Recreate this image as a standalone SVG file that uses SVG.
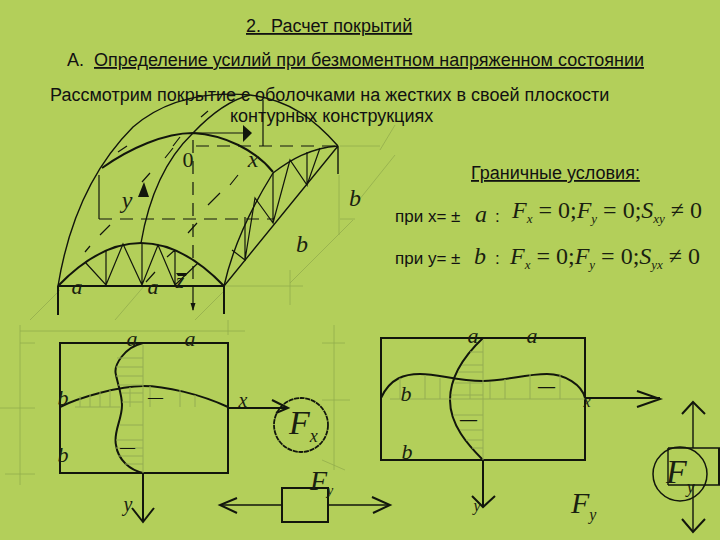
<svg xmlns="http://www.w3.org/2000/svg" width="720" height="540" viewBox="0 0 720 540">
<style>
.t{font-family:"Liberation Sans",Arial,sans-serif;font-size:18px;fill:#111;white-space:pre}
.p{font-family:"Liberation Sans",Arial,sans-serif;font-size:17px;fill:#111}
.u{text-decoration:underline}
.m{font-family:"Liberation Serif","Times New Roman",serif;font-style:italic;fill:#1a1f10;text-anchor:middle}
.e{font-family:"Liberation Serif","Times New Roman",serif;font-style:italic;fill:#1a1f10}
.n{font-style:normal}
.o{font-family:"Liberation Serif","Times New Roman",serif;font-weight:bold;fill:#12160c}
.l{fill:none;stroke:#12160c;stroke-width:1.4}
.h{fill:none;stroke:#12160c;stroke-width:2}
.d{fill:none;stroke:#12160c;stroke-width:1.2;stroke-dasharray:13 8}
.k{fill:none;stroke:#12160c;stroke-width:1.2}
.g{fill:none;stroke:#93ad4c;stroke-width:.8}
.s{fill:none;stroke:#94ad52;stroke-width:1}
.f{fill:#12160c}
</style>
<rect width="720" height="540" fill="#b3cf5a"/>
<g id="faint-grid">
<path class="g" d="M340 146H380M340 219H355M224 286H303M290 270V305M339 175V235M290 283L353 220M30 320L60 290M115 320L145 285M195 320L225 290M20 331H245M20 343H35M0 408H35M5 474H35M20 325V485M228 320V335M334 325V470M322 343H345M322 400H350M322 460L345 470M355 205L395 155M380 150L395 125"/>
</g>
<g id="connectors">
<path class="h" d="M58 286Q141 200 224 286M58 286H224M58 286V315M224 286V314"/>
<path class="l" d="M58 286C68 225 90 170 133 127C170 95 215 92 250 95C290 100 315 120 338 146"/>
<path class="l" d="M141 243C150 190 170 155 193 133C210 115 230 100 250 95"/>
<path class="h" d="M102 168C130 148 165 133 193 133C225 135 255 150 273 172"/>
<path class="l" d="M224 286C232 250 250 210 273 173C290 160 310 148 338 146"/>
<path class="l" d="M224 286L338 146M338 146V174"/>
<path class="k" d="M85 262L106 285L106 250M106 285L123 244L142 285L142 243M142 285L158 245L175 285L175 250M167 257L175 250M175 285L198 263"/>
<path class="k" d="M232 250L245 260L245 217M245 260L255 198L273 223L273 173M273 223L290 160L307 185L307 152M307 185L320 148"/>
<path class="d" d="M196 146H338"/>
<path class="d" d="M99 219H273"/>
<path class="k" d="M99 219V175"/>
<path class="d" d="M193 140V300"/>
<path class="k" d="M193 300V310"/>
<path class="f" d="M193 311l-2.500 -8h5z"/>
<path class="k" d="M263 100V146M193 133H245"/>
<path class="k" d="M201 117L208 111M118 152L127 146M165 158L173 148M173 146L180 137M142 182L150 173M100 235L110 225M208 205L220 193M230 185L238 175M188 233L197 223M85 252L90 246M146 282L155 272"/>
<polygon class="f" points="243,125 252,133 243,142"/>
<polygon class="f" points="144,182 149,197 138,197"/>
<polygon class="f" points="176,273 187,273 186,276 178,276"/>
<path class="h" d="M60 343H228V473H60ZM60 407C80 397 120 386 143 386C165 386 200 394 228 407"/>
<path class="h" d="M143 343C125 347 113 365 116 375C118 385 122 395 122 405C122 420 113 432 116 445C118 460 130 470 143 473M143 473V522"/>
<path class="h" d="M228 408H288M272 400L288 408L276 413M132 508L143 522L154 508"/>
<path class="s" d="M117 358H143M116 367H143M116 376H143M118 385H143M122 393H143M122 402H143M120 425H143M116 440H143M116 448H143M118 456H143M125 464H143M143 345V473M75 407H120M80 396V407M90 394V407M100 392V407M110 390V407M130 387V407M150 386V407M180 390V407M195 395V407"/>
<circle cx="301" cy="425" r="27" fill="none" stroke="#12160c" stroke-width="1.8" stroke-dasharray="5 .7"/>
<rect x="282" y="488" width="46" height="34" fill="none" stroke="#12160c" stroke-width="2"/>
<path class="h" d="M237 498L220 505L237 513"/>
<path class="l" d="M220 505H282M328 505H389"/>
<path class="h" d="M372 497L390 505L373 513"/>
<path class="h" d="M381 338H585V460H381ZM381 398C390 378 405 374 420 374C440 374 455 381 483 381C505 381 525 374 547 374C565 374 582 385 585 398"/>
<path class="h" d="M483 338C465 355 450 375 450 400C450 425 468 445 483 460M483 460V507M472 496L483 507L495 496"/>
<path class="h" d="M585 398H660M637 391L660 399L637 407"/>
<path class="s" d="M470 352H483M462 365H483M458 372H483M455 383H483M451 395H483M453 415H483M460 430H483M466 440H483M472 448H483M483 340V460M390 399H585M400 378V399M425 375V399M440 378V399M470 382V399M490 382V399M505 379V399M530 374V399M560 375V399"/>
<path class="l" d="M693 402V448M693 485V532"/>
<path class="h" d="M682 414L693 402L705 414M682 519L693 532L705 519"/>
<path class="l" d="M668 448H720M668 485H720M668 448V485"/>
<path class="h" d="M719 448V485"/>
<circle cx="680" cy="474" r="27" fill="none" stroke="#12160c" stroke-width="1.5"/>
</g>
<g id="text">
<text class="t u" x="246" y="32" xml:space="preserve">2.  Расчет покрытий</text>
<text class="t" x="67" y="66" xml:space="preserve">А.  <tspan class="u">Определение усилий при безмоментном напряженном состоянии</tspan></text>
<text class="t" x="50" y="101">Рассмотрим покрытие с оболочками на жестких в своей плоскости</text>
<text class="t" x="230" y="122">контурных конструкциях</text>
<text class="t u" x="471" y="179">Граничные условия:</text>
<text class="p" x="395" y="222">при x= ±</text>
<text class="p" x="395" y="264">при y= ±</text>
<text class="e" font-size="24" x="475" y="222">a</text>
<text class="p" x="495" y="222">:</text>
<text class="e" font-size="24" x="512" y="218">F<tspan font-size="13" dy="5">x</tspan><tspan class="n" dy="-5"> = 0;</tspan>F<tspan font-size="13" dy="5">y</tspan><tspan class="n" dy="-5"> = 0;</tspan>S<tspan font-size="13" dy="5">xy</tspan><tspan class="n" dy="-5"> ≠ 0</tspan></text>
<text class="e" font-size="24" x="474" y="264">b</text>
<text class="p" x="495" y="264">:</text>
<text class="e" font-size="24" x="510" y="264">F<tspan font-size="13" dy="5">x</tspan><tspan class="n" dy="-5"> = 0;</tspan>F<tspan font-size="13" dy="5">y</tspan><tspan class="n" dy="-5"> = 0;</tspan>S<tspan font-size="13" dy="5">yx</tspan><tspan class="n" dy="-5"> ≠ 0</tspan></text>
<text class="m n" font-size="22" x="188" y="167">0</text>
<text class="m" font-size="24" x="253" y="167">x</text>
<text class="m" font-size="24" x="127" y="208">y</text>
<text class="m" font-size="24" x="355" y="206">b</text>
<text class="m" font-size="24" x="302" y="252">b</text>
<text class="m" font-size="22" x="77" y="294">a</text>
<text class="m" font-size="22" x="153" y="294">a</text>
<text class="m" font-size="22" x="180" y="288">z</text>
<text class="m" font-size="22" x="132" y="346">a</text>
<text class="m" font-size="22" x="190" y="346">a</text>
<text class="m" font-size="22" x="63" y="405">b</text>
<text class="m" font-size="22" x="63" y="462">b</text>
<text class="m" font-size="20" x="243" y="407">x</text>
<text class="m" font-size="20" x="128" y="511">y</text>
<text class="e" font-size="34" x="289" y="434">F<tspan font-size="18" dy="8">x</tspan></text>
<text class="e" font-size="28" x="310" y="490">F<tspan font-size="14" dy="5">y</tspan></text>
<text class="o" font-size="15" x="148" y="402">—</text>
<text class="o" font-size="15" x="120" y="452">—</text>
<text class="m" font-size="22" x="473" y="343">a</text>
<text class="m" font-size="22" x="532" y="343">a</text>
<text class="m" font-size="22" x="406" y="401">b</text>
<text class="m" font-size="22" x="407" y="459">b</text>
<text class="o" font-size="17" x="538" y="392">—</text>
<text class="o" font-size="17" x="460" y="425">—</text>
<text class="m" font-size="16" x="587" y="407">x</text>
<text class="m" font-size="16" x="477" y="511">y</text>
<text class="e" font-size="30" x="571" y="513">F<tspan font-size="16" dy="7">y</tspan></text>
<text class="e" font-size="34" x="666" y="483">F<tspan font-size="18" dy="10">y</tspan></text>
</g>
</svg>
